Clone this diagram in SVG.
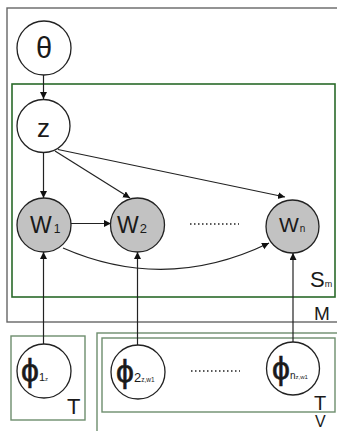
<svg xmlns="http://www.w3.org/2000/svg" width="337" height="431" viewBox="0 0 337 431">
<style>
.lbl{font-family:"Liberation Sans",Arial,sans-serif;fill:#1a1a1a;font-weight:normal;stroke:none}
.phi{font-family:"Liberation Sans",Arial,sans-serif;fill:#1a1a1a;stroke:#1a1a1a;stroke-width:0.6}
.node{stroke:#222;stroke-width:1.3}
.obs{fill:#c2c2c2}
.lat{fill:#fff}
.edge{stroke:#222;stroke-width:1.2;fill:none}
.plateM{fill:none;stroke:#666;stroke-width:1.4}
.plateS{fill:none;stroke:#2a6a2a;stroke-width:1.6}
.plateT{fill:none;stroke:#6d8d6d;stroke-width:1.4}
</style>
<defs>
<marker id="arr" markerUnits="userSpaceOnUse" markerWidth="10" markerHeight="10" refX="7" refY="3.5" orient="auto">
<path d="M0,0 L7,3.5 L0,7 z" fill="#111"/>
</marker>
</defs>
<rect width="337" height="431" fill="#fff"/>
<g id="plates">
<rect id="plate-M" class="plateM" x="7" y="8" width="340" height="314"/>
<rect id="plate-S" class="plateS" x="12" y="84" width="323" height="213"/>
<rect id="plate-T1" class="plateT" x="11" y="336" width="74" height="84"/>
<rect id="plate-V" class="plateT" x="97" y="333" width="250" height="110"/>
<rect id="plate-T2" class="plateT" x="102" y="338" width="233" height="74"/>
<text class="lbl" x="310" y="287" font-size="22">S<tspan font-size="9">m</tspan></text>
<text class="lbl" x="314" y="320" font-size="19">M</text>
<text class="lbl" x="67" y="414" font-size="22">T</text>
<text class="lbl" x="314" y="410" font-size="20">T</text>
<text class="lbl" x="315" y="427" font-size="16">V</text>
</g>
<g id="connectors">
<line class="edge" x1="43.5" y1="75" x2="43.5" y2="99" marker-end="url(#arr)"/>
<line class="edge" x1="43.5" y1="153" x2="43.5" y2="198" marker-end="url(#arr)"/>
<line class="edge" x1="55" y1="151" x2="130" y2="198" marker-end="url(#arr)"/>
<line class="edge" x1="58" y1="149.5" x2="285" y2="197" marker-end="url(#arr)"/>
<line class="edge" x1="71" y1="223.5" x2="111" y2="223.5" marker-end="url(#arr)"/>
<path class="edge" d="M63,248 Q166,293 269,243" marker-end="url(#arr)"/>
<line class="edge" x1="43.5" y1="344" x2="43.5" y2="252" marker-end="url(#arr)"/>
<line class="edge" x1="137.5" y1="345" x2="137.5" y2="252" marker-end="url(#arr)"/>
<line class="edge" x1="293" y1="342" x2="293" y2="253" marker-end="url(#arr)"/>
<line x1="190" y1="224" x2="239" y2="224" stroke="#222" stroke-width="1.3" stroke-dasharray="1.5,2.5"/>
<line x1="191" y1="371" x2="240" y2="371" stroke="#222" stroke-width="1.3" stroke-dasharray="1.5,2.5"/>
</g>
<g id="theta">
<circle class="node lat" cx="44" cy="48" r="27"/>
<text class="lbl" x="44" y="58" font-size="29" text-anchor="middle">θ</text>
</g>
<g id="z">
<circle class="node lat" cx="43.5" cy="126" r="26.5"/>
<text class="lbl" x="43.5" y="137" font-size="26" text-anchor="middle">z</text>
</g>
<g id="w1">
<circle class="node obs" cx="44" cy="225" r="27"/>
<text class="lbl" x="30" y="233" font-size="23">W<tspan dx="2" font-size="12">1</tspan></text>
</g>
<g id="w2">
<circle class="node obs" cx="137.5" cy="225" r="27"/>
<text class="lbl" x="117" y="233" font-size="23">W<tspan dx="1" font-size="13">2</tspan></text>
</g>
<g id="wn">
<circle class="node obs" cx="292.5" cy="226.5" r="26.5"/>
<text class="lbl" x="279" y="232" font-size="21">W<tspan dx="1" font-size="10">n</tspan></text>
</g>
<g id="phi1">
<circle class="node lat" cx="44" cy="371" r="27"/>
<text class="phi" x="21" y="381" font-size="32">ϕ<tspan class="lbl" font-size="11">1<tspan font-size="6">z</tspan></tspan></text>
</g>
<g id="phi2">
<circle class="node lat" cx="138" cy="372" r="27"/>
<text class="phi" x="116" y="382" font-size="32">ϕ<tspan class="lbl" font-size="13">2<tspan font-size="6.5">z,w1</tspan></tspan></text>
</g>
<g id="phin">
<circle class="node lat" cx="293" cy="368.5" r="26.5"/>
<text class="phi" x="272" y="379" font-size="32">ϕ<tspan class="lbl" font-size="10">n<tspan font-size="6">z,w1</tspan></tspan></text>
</g>
</svg>
